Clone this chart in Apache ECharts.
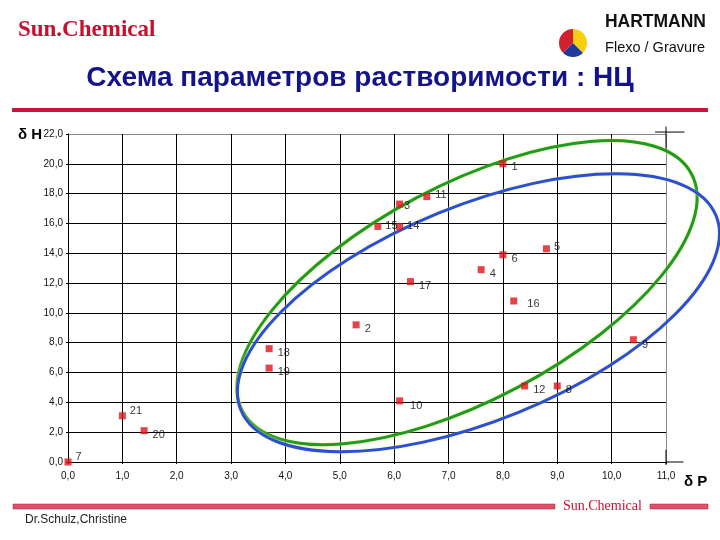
<!DOCTYPE html>
<html><head><meta charset="utf-8">
<script src="https://cdn.jsdelivr.net/npm/echarts@6/dist/echarts.min.js"></script>
<style>html,body{margin:0;padding:0;background:#fff}#c{width:720px;height:540px}</style>
</head><body><div id="c"></div>
<script>
// Point ids and solubility parameters (δP, δH)
const pointIds = ['1','2','3','4','5','6','7','8','9','10','11','12','14','15','16','17','18','19','20','21'];
const pointDP  = [8.0, 5.3, 6.1, 7.6, 8.8, 8.0, 0.0, 9.0, 10.4, 6.1, 6.6, 8.4, 6.1, 5.7, 8.2, 6.3, 3.7, 3.7, 1.4, 1.0];
const pointDH  = [20.0, 9.2, 17.3, 12.9, 14.3, 13.9, 0.0, 5.1, 8.2, 4.1, 17.8, 5.1, 15.8, 15.8, 10.8, 12.1, 7.6, 6.3, 2.1, 3.1];

// Solubility ellipses (data units):
// centre, end of the long half-axis, end of the short half-axis
const ellipseNames    = ['green', 'blue'];
const ellipseCenterDP = [7.34, 7.55];
const ellipseCenterDH = [11.36, 10.01];
const ellipseMajorDP  = [11.47, 11.92];
const ellipseMajorDH  = [19.32, 16.53];
const ellipseMinorDP  = [8.26, 8.30];
const ellipseMinorDH  = [4.98, 3.35];
const ellipseColors   = ['#1f9a22', '#2a4ed6'];

const xMin = 0, xMax = 11, xStep = 1;
const yMin = 0, yMax = 22, yStep = 2;

// small axis decorations (in data units): axis extension, end tick, top-right cross
const extraSegments = [
  [[11, 0], [11.32, 0]],
  [[11, 0.82], [11, -0.2]],
  [[10.8, 22.13], [11.34, 22.13]],
  [[11, 22.5], [11, 20.9]]
];

const labelOffsets = {'11':[3,-2],'21':[2,-5],'7':[2,-5],'15':[2,0],'14':[2,0],'3':[-1,2],'5':[2,-2],'1':[3,3],'9':[3,5],'10':[5,5],'16':[8,3]};

const fmt = v => v.toFixed(1).replace('.', ',');

const FONT = '"Liberation Sans", Arial, sans-serif';
const chart = echarts.init(document.getElementById('c'), null, {renderer: 'canvas'});

const xLineColors = []; for (let i = xMin; i <= xMax; i += xStep) xLineColors.push(i === xMax ? '#8a8a8a' : '#000');
const yLineColors = []; for (let i = yMin; i <= yMax; i += yStep) yLineColors.push(i === yMax ? '#8a8a8a' : '#000');

const ellipseData = ellipseNames.map((n, i) => ({
  name: n,
  value: [ellipseCenterDP[i], ellipseCenterDH[i], ellipseMajorDP[i], ellipseMajorDH[i], ellipseMinorDP[i], ellipseMinorDH[i]]
}));

const option = {
  animation: false,
  backgroundColor: '#fff',
  grid: {left: 68, right: 54, top: 134, bottom: 78, containLabel: false},
  xAxis: {
    type: 'value', min: xMin, max: xMax, interval: xStep,
    axisLine: {show: true, onZero: false, lineStyle: {color: '#000', width: 1}},
    axisTick: {show: true, length: 2, lineStyle: {color: '#000'}},
    axisLabel: {formatter: fmt, fontSize: 10, color: '#111', margin: 9, fontFamily: FONT},
    splitLine: {show: true, lineStyle: {color: xLineColors, width: 1}}
  },
  yAxis: {
    type: 'value', min: yMin, max: yMax, interval: yStep,
    axisLine: {show: true, onZero: false, lineStyle: {color: '#000', width: 1}},
    axisTick: {show: true, length: 2, lineStyle: {color: '#000'}},
    axisLabel: {formatter: fmt, fontSize: 10, color: '#111', margin: 5, fontFamily: FONT},
    splitLine: {show: true, lineStyle: {color: yLineColors, width: 1}}
  },
  series: [
    {
      type: 'custom', name: 'ellipses', clip: false, z: 3, silent: true,
      encode: {x: [0, 2, 4], y: [1, 3, 5]},
      data: ellipseData,
      renderItem: (params, api) => {
        const c = api.coord([api.value(0), api.value(1)]);
        const m = api.coord([api.value(2), api.value(3)]);
        const n = api.coord([api.value(4), api.value(5)]);
        const dx = m[0] - c[0], dy = m[1] - c[1];
        const rx = Math.hypot(dx, dy);
        const ry = Math.hypot(n[0] - c[0], n[1] - c[1]);
        return {
          type: 'ellipse', x: c[0], y: c[1], rotation: Math.atan2(-dy, dx),
          shape: {cx: 0, cy: 0, rx: rx, ry: ry},
          style: {fill: 'none', stroke: ellipseColors[params.dataIndex], lineWidth: 3,
                  shadowColor: 'rgba(235,240,130,0.8)', shadowBlur: 3}
        };
      }
    },
    {
      type: 'custom', name: 'axisExtras', clip: false, z: 2, silent: true,
      data: extraSegments.map((s, i) => [i]),
      renderItem: (params, api) => {
        const s = extraSegments[params.dataIndex];
        const a = api.coord(s[0]), b = api.coord(s[1]);
        return {type: 'line', shape: {x1: a[0], y1: a[1], x2: b[0], y2: b[1]},
                style: {stroke: '#000', lineWidth: 1}};
      }
    },
    {
      type: 'scatter', name: 'points', z: 4,
      symbol: 'rect', symbolSize: 7,
      itemStyle: {color: '#e0141a'},
      data: pointDP.map((x, i) => ({
        value: [x, pointDH[i]], name: pointIds[i],
        label: {offset: labelOffsets[pointIds[i]] || [3, 4]}
      })),
      label: {show: true, position: 'right', distance: 2, formatter: p => p.name,
              fontSize: 11, color: '#000', fontFamily: FONT}
    }
  ],
  graphic: [
    {type: 'text', left: 18, top: 19, style: {text: 'Sun.Chemical', font: 'bold 23px "Liberation Serif", "Times New Roman", serif', fill: '#c8102e'}},
    {type: 'text', right: 14, top: 13, style: {text: 'HARTMANN', font: 'bold 17.5px ' + FONT, fill: '#111'}},
    {type: 'text', right: 15, top: 40, style: {text: 'Flexo / Gravure', font: '14.5px ' + FONT, fill: '#111'}},
    {type: 'sector', shape: {cx: 573, cy: 43, r: 14, startAngle: Math.PI * 0.75, endAngle: Math.PI * 1.5}, style: {fill: '#d3202e'}},
    {type: 'sector', shape: {cx: 573, cy: 43, r: 14, startAngle: Math.PI * 1.5, endAngle: Math.PI * 2.25}, style: {fill: '#f5cf10'}},
    {type: 'sector', shape: {cx: 573, cy: 43, r: 14, startAngle: Math.PI * 0.25, endAngle: Math.PI * 0.75}, style: {fill: '#1e3a9c'}},
    {type: 'text', left: 'center', top: 64, style: {text: 'Схема параметров растворимости : НЦ', font: 'bold 28px ' + FONT, fill: '#14148a'}},
    {type: 'rect', shape: {x: 12, y: 108, width: 696, height: 4}, style: {fill: '#c8143c'}},
    {type: 'text', left: 18, top: 127, style: {text: 'δ H', font: 'bold 15px ' + FONT, fill: '#000'}},
    {type: 'text', left: 684, top: 474, style: {text: 'δ P', font: 'bold 15px ' + FONT, fill: '#000'}},
    {type: 'rect', shape: {x: 13, y: 504, width: 542, height: 5}, style: {fill: '#e0506a', stroke: '#a0203a', lineWidth: 0.5}},
    {type: 'text', left: 563, top: 499, style: {text: 'Sun.Chemical', font: '14px "Liberation Serif", "Times New Roman", serif', fill: '#c8102e'}},
    {type: 'rect', shape: {x: 650, y: 504, width: 58, height: 5}, style: {fill: '#e0506a', stroke: '#a0203a', lineWidth: 0.5}},
    {type: 'text', left: 25, top: 514, style: {text: 'Dr.Schulz,Christine', font: '12px ' + FONT, fill: '#222'}}
  ]
};
chart.setOption(option);
</script>
</body></html>
